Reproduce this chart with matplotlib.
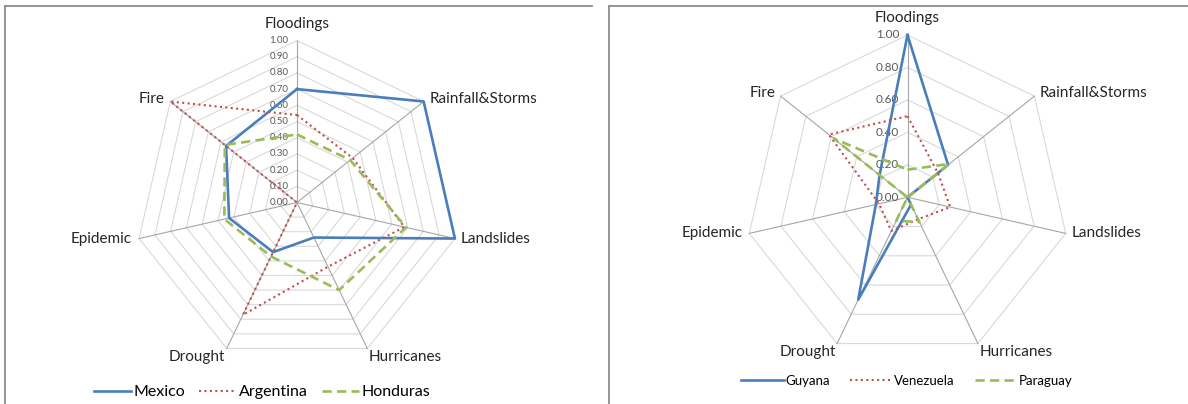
import numpy as np
import matplotlib
matplotlib.use('Agg')
import matplotlib.pyplot as plt

plt.rcParams['font.family'] = ['Lato', 'DejaVu Sans']

categories = ['Floodings', 'Rainfall&Storms', 'Landslides', 'Hurricanes',
              'Drought', 'Epidemic', 'Fire']

# left chart
mexico    = [0.70, 1.00, 1.00, 0.24, 0.34, 0.43, 0.56]
argentina = [0.54, 0.44, 0.68, 0.44, 0.77, 0.00, 1.00]
honduras  = [0.42, 0.42, 0.69, 0.60, 0.37, 0.46, 0.57]
left_names = ['Mexico', 'Argentina', 'Honduras']
left_ticks = [0.0, 0.1, 0.2, 0.3, 0.4, 0.5, 0.6, 0.7, 0.8, 0.9, 1.0]

# right chart
guyana    = [1.00, 0.32, 0.00, 0.05, 0.70, 0.20, 0.22]
venezuela = [0.50, 0.24, 0.27, 0.15, 0.23, 0.18, 0.62]
paraguay  = [0.17, 0.33, 0.00, 0.17, 0.16, 0.00, 0.58]
right_names = ['Guyana', 'Venezuela', 'Paraguay']
right_ticks = [0.0, 0.2, 0.4, 0.6, 0.8, 1.0]

BLUE = '#4A7EBB'
RED = '#C0504D'
GREEN = '#9BBB59'
styles = [dict(color=BLUE, lw=1.9, ls='-'),
          dict(color=RED, lw=1.5, ls=(0, (1, 1.6))),
          dict(color=GREEN, lw=1.9, ls=(0, (3.5, 2)))]

W, H = 1188, 404
fig = plt.figure(figsize=(W / 100, H / 100), dpi=100)

n = len(categories)
ang = np.pi / 2 - 2 * np.pi * np.arange(n) / n


def make_ax(box, center, radius):
    x0, y0, x1, y1 = box
    cx, cy = center
    ax = fig.add_axes([x0 / W, 1 - y1 / H, (x1 - x0) / W, (y1 - y0) / H])
    ax.set_xlim((x0 - cx) / radius, (x1 - cx) / radius)
    ax.set_ylim(-(y1 - cy) / radius, (cy - y0) / radius)
    ax.set_xticks([])
    ax.set_yticks([])
    for s in ['right', 'bottom']:
        ax.spines[s].set_visible(False)
    for s in ['left', 'top']:
        ax.spines[s].set_color('#8C8C8C')
        ax.spines[s].set_linewidth(1.3)
    return ax


def radar(ax, series, names, ticks, tick_fs, leg_fs, leg_xy, handlelen, colspace):
    # rings and spokes
    for r in ticks[1:]:
        xs = np.append(r * np.cos(ang), r * np.cos(ang[0]))
        ys = np.append(r * np.sin(ang), r * np.sin(ang[0]))
        ax.plot(xs, ys, color='#D9D9D9', lw=0.8, zorder=1)
    for a in ang:
        ax.plot([0, np.cos(a)], [0, np.sin(a)], color='#A6A6A6', lw=0.8, zorder=1)

    for vals, name, st in zip(series, names, styles):
        v = np.array(vals + vals[:1])
        a = np.append(ang, ang[0])
        ax.plot(v * np.cos(a), v * np.sin(a), label=name, zorder=3,
                dash_capstyle='butt', **st)

    for t in ticks:
        ax.annotate(f'{t:.2f}', (0, t), xytext=(-6, 0), textcoords='offset points',
                    ha='right', va='center', fontsize=tick_fs, color='#595959', zorder=2)

    offs = [((0, 7), 'center', 'bottom'),
            ((4, 2), 'left', 'center'),
            ((4, 0), 'left', 'center'),
            ((1, -1), 'left', 'top'),
            ((-1, -1), 'right', 'top'),
            ((-5, 0), 'right', 'center'),
            ((-4, 2), 'right', 'center')]
    for a, c, (o, ha, va) in zip(ang, categories, offs):
        ax.annotate(c, (np.cos(a), np.sin(a)), xytext=o, textcoords='offset points',
                    ha=ha, va=va, fontsize=11, color='#262626')

    ax.legend(loc='center', bbox_to_anchor=leg_xy, bbox_transform=fig.transFigure,
              ncol=3, frameon=False, fontsize=leg_fs, handlelength=handlelen,
              handletextpad=0.15, columnspacing=colspace)


ax1 = make_ax((5, 6, 592, 404), (297, 202.5), 162)
radar(ax1, [mexico, argentina, honduras], left_names, left_ticks,
      7, 11.5, (262 / W, 1 - 392 / H), 2.3, 0.9)

ax2 = make_ax((609, 6, 1188, 404), (907.5, 197.3), 162.3)
radar(ax2, [guyana, venezuela, paraguay], right_names, right_ticks,
      8.5, 9.5, (907 / W, 1 - 381 / H), 3.2, 1.5)

plt.savefig('out.png', dpi=100)
